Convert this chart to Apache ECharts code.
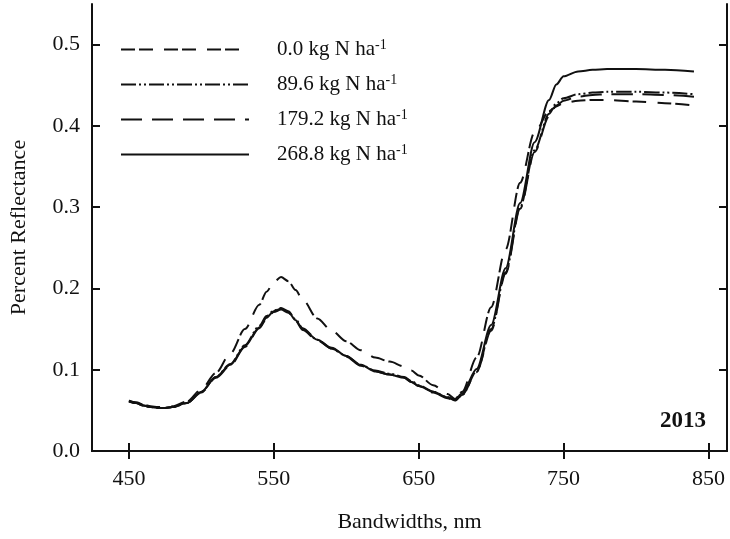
<!DOCTYPE html>
<html>
<head>
<meta charset="utf-8">
<script src="https://cdn.jsdelivr.net/npm/echarts@6/dist/echarts.min.js"></script>
<style>
  html, body { margin: 0; padding: 0; background: #fff; }
  #chart { width: 730px; height: 539px; }
</style>
</head>
<body>
<div id="chart"></div>
<script>
// Canopy reflectance spectra by nitrogen rate, 2013
const wavelengths = [450, 455, 460, 465, 470, 475, 480, 490, 500, 510, 520, 530, 540, 545, 550, 555, 560, 565, 570, 580, 590, 600, 610, 620, 630, 640, 645, 650, 660, 670, 675, 680, 690, 700, 710, 720, 730, 740, 745, 750, 760, 770, 780, 800, 820, 840];

const rates = ['0.0', '89.6', '179.2', '268.8'];

const refl0 = [0.062, 0.060, 0.057, 0.055, 0.054, 0.054, 0.055, 0.061, 0.076, 0.096, 0.120, 0.150, 0.180, 0.196, 0.208, 0.214, 0.209, 0.198, 0.186, 0.163, 0.148, 0.135, 0.124, 0.115, 0.110, 0.104, 0.099, 0.093, 0.081, 0.070, 0.064, 0.073, 0.115, 0.177, 0.248, 0.330, 0.392, 0.418, 0.424, 0.428, 0.431, 0.432, 0.432, 0.430, 0.428, 0.425];

const refl89 = [0.061, 0.059, 0.056, 0.054, 0.053, 0.053, 0.054, 0.059, 0.073, 0.091, 0.107, 0.130, 0.154, 0.166, 0.173, 0.176, 0.172, 0.162, 0.151, 0.137, 0.126, 0.117, 0.106, 0.099, 0.095, 0.091, 0.086, 0.081, 0.073, 0.066, 0.062, 0.069, 0.098, 0.150, 0.220, 0.300, 0.370, 0.415, 0.428, 0.434, 0.439, 0.441, 0.442, 0.442, 0.441, 0.439];

const refl179 = [0.061, 0.059, 0.056, 0.054, 0.053, 0.053, 0.054, 0.059, 0.072, 0.090, 0.105, 0.128, 0.151, 0.163, 0.171, 0.174, 0.170, 0.160, 0.149, 0.136, 0.126, 0.116, 0.105, 0.098, 0.094, 0.090, 0.085, 0.080, 0.072, 0.065, 0.062, 0.069, 0.097, 0.148, 0.218, 0.298, 0.368, 0.412, 0.425, 0.431, 0.436, 0.438, 0.439, 0.439, 0.438, 0.436];

const refl268 = [0.062, 0.059, 0.056, 0.054, 0.053, 0.053, 0.054, 0.059, 0.073, 0.091, 0.106, 0.129, 0.152, 0.164, 0.172, 0.175, 0.171, 0.161, 0.150, 0.137, 0.127, 0.117, 0.106, 0.098, 0.094, 0.090, 0.085, 0.080, 0.073, 0.066, 0.063, 0.071, 0.101, 0.155, 0.225, 0.305, 0.380, 0.432, 0.451, 0.461, 0.467, 0.469, 0.470, 0.470, 0.469, 0.467];

const xTicks = [450, 550, 650, 750, 850];
const yTicks = [0, 0.1, 0.2, 0.3, 0.4, 0.5];
const yearLabel = '2013';

const FONT = 'Liberation Serif';
const INK = '#111';

const seriesValues = [refl0, refl89, refl179, refl268];
const dashes = [[14, 4, 14, 11], [15, 3, 2, 3, 2, 3], [21, 10], 'solid'];

function pairs(vals) {
  return wavelengths.map((w, i) => [w, vals[i]]);
}

const frameLine = { show: true, lineStyle: { color: INK, width: 2 } };
const innerTick = (vals) => ({ show: true, inside: true, length: 8, customValues: vals, lineStyle: { color: INK, width: 2 } });

const chart = echarts.init(document.getElementById('chart'), null, { renderer: 'canvas' });

chart.setOption({
  backgroundColor: '#fff',
  animation: false,
  title: {
    text: yearLabel,
    right: 19,
    top: 405,
    textStyle: { fontFamily: FONT, fontWeight: 'bold', fontSize: 23, color: INK }
  },
  grid: { left: 92, right: 3, top: 4, bottom: 88, containLabel: false },
  legend: {
    orient: 'vertical',
    left: 115,
    top: 33,
    itemWidth: 128,
    itemHeight: 14,
    itemGap: 13,
    data: rates,
    // keep only the line in each legend key
    itemStyle: { opacity: 0 },
    textStyle: {
      fontFamily: FONT,
      fontSize: 21,
      color: INK,
      padding: [0, 0, 0, 23],
      rich: {
        t: { fontFamily: FONT, fontSize: 21, color: INK, lineHeight: 23 },
        s: { fontFamily: FONT, fontSize: 14, color: INK, lineHeight: 14, verticalAlign: 'top' }
      }
    },
    formatter: (name) => '{t|' + name + ' kg N ha}{s|-1}'
  },
  xAxis: [
    {
      type: 'value',
      position: 'bottom',
      min: 424.5,
      max: 862.8,
      name: 'Bandwidths, nm',
      nameLocation: 'middle',
      nameGap: 60,
      nameTextStyle: { fontFamily: FONT, fontSize: 22, color: INK },
      axisLine: frameLine,
      axisTick: innerTick(xTicks),
      axisLabel: {
        customValues: xTicks,
        margin: 17,
        fontFamily: FONT,
        fontSize: 22,
        color: INK
      },
      splitLine: { show: false }
    },
    {
      type: 'value',
      position: 'top',
      min: 424.5,
      max: 862.8,
      axisLine: frameLine,
      axisTick: innerTick(xTicks),
      axisLabel: { show: false },
      splitLine: { show: false }
    }
  ],
  yAxis: [
    {
      type: 'value',
      position: 'left',
      min: 0,
      max: 0.55,
      name: 'Percent Reflectance',
      nameLocation: 'middle',
      nameGap: 62,
      nameRotate: 90,
      nameTextStyle: { fontFamily: FONT, fontSize: 22, color: INK },
      axisLine: frameLine,
      axisTick: innerTick(yTicks),
      axisLabel: {
        customValues: yTicks,
        margin: 12,
        fontFamily: FONT,
        fontSize: 22,
        color: INK,
        formatter: (v) => v.toFixed(1)
      },
      splitLine: { show: false }
    },
    {
      type: 'value',
      position: 'right',
      min: 0,
      max: 0.55,
      axisLine: frameLine,
      axisTick: innerTick(yTicks),
      axisLabel: { show: false },
      splitLine: { show: false }
    }
  ],
  series: rates.map((r, i) => ({
    name: r,
    type: 'line',
    xAxisIndex: 0,
    yAxisIndex: 0,
    data: pairs(seriesValues[i]),
    showSymbol: false,
    symbol: 'none',
    smooth: 0.3,
    smoothMonotone: 'x',
    color: INK,
    lineStyle: { color: INK, width: 2, type: dashes[i] },
    z: i === 3 ? 3 : 2
  }))
});
</script>
</body>
</html>
